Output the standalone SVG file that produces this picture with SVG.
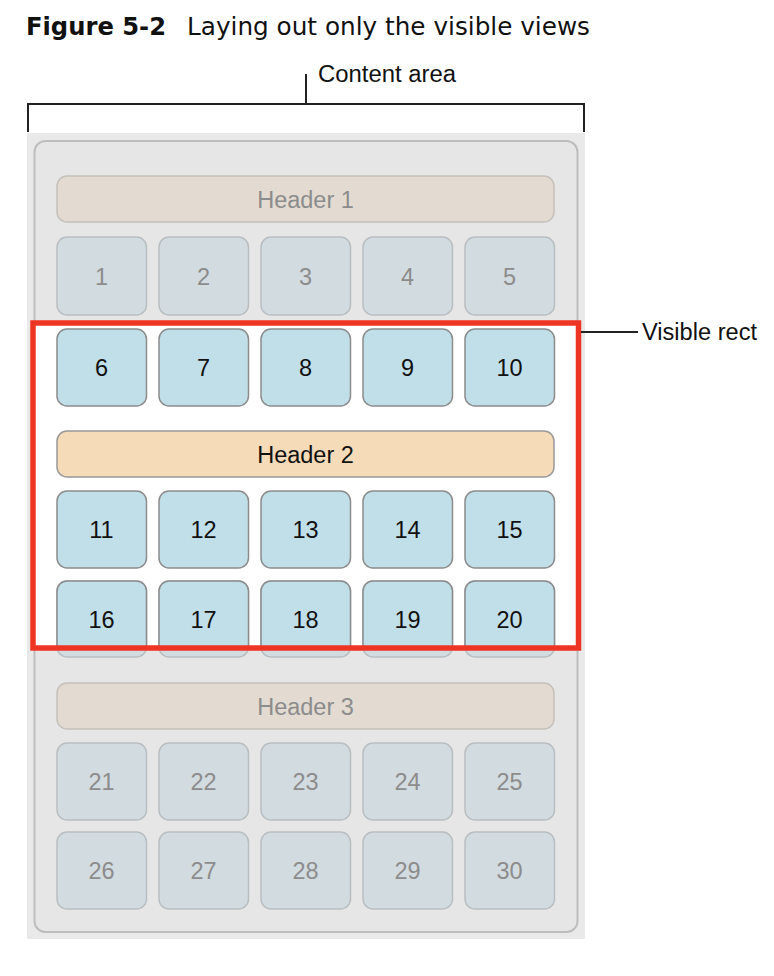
<svg xmlns="http://www.w3.org/2000/svg" width="774" height="976" viewBox="0 0 774 976">
<style>
  text { font-family: "Liberation Sans", Arial, sans-serif; }
  .title { font-family: "DejaVu Sans", "Noto Sans", sans-serif; font-size: 24px; fill: #111; }
  .lbl { font-size: 23.5px; fill: #111; }
  .gcell { fill: #d2dbe0; stroke: #b9bec1; stroke-width: 1.5; }
  .ghead { fill: #e3dbd1; stroke: #c5c0ba; stroke-width: 1.5; }
  .gtxt { font-size: 23.5px; fill: #8c8c8c; text-anchor: middle; }
  .bcell { fill: #c1dfe9; stroke: #8c8c8c; stroke-width: 1.5; }
  .ohead { fill: #f6dbb8; stroke: #999; stroke-width: 1.5; }
  .btxt { font-size: 23.5px; fill: #111; text-anchor: middle; }
  .line { stroke: #222; stroke-width: 2; fill: none; }
</style>
<defs>
  <clipPath id="inside"><rect x="33" y="323" width="545.5" height="325"/></clipPath>
</defs>
<rect width="774" height="976" fill="#fff"/>

<text class="title" x="26" y="35" font-weight="bold" textLength="140" lengthAdjust="spacingAndGlyphs">Figure 5-2</text>
<text class="title" x="187" y="35" textLength="403" lengthAdjust="spacingAndGlyphs">Laying out only the visible views</text>

<g id="background">
  <rect x="27" y="133" width="558" height="806" fill="#e9e9e9"/>
  <rect x="34.5" y="141" width="543" height="791" rx="11" fill="#e6e6e6" stroke="#bdbdbd" stroke-width="2"/>
  <rect x="33" y="323" width="545.5" height="325" fill="#fff"/>
</g>

<g id="content-area">
  <text class="lbl" x="318" y="82" textLength="138" lengthAdjust="spacingAndGlyphs">Content area</text>
</g>

<g id="header1"><rect class="ghead" x="57" y="176" width="497" height="46" rx="10"/><text class="gtxt" x="305.5" y="207.5">Header 1</text></g>
<g id="cell1"><rect class="gcell" x="57" y="237" width="89.5" height="78" rx="10"/><text class="gtxt" x="101.5" y="284.5">1</text></g>
<g id="cell2"><rect class="gcell" x="159" y="237" width="89.5" height="78" rx="10"/><text class="gtxt" x="203.5" y="284.5">2</text></g>
<g id="cell3"><rect class="gcell" x="261" y="237" width="89.5" height="78" rx="10"/><text class="gtxt" x="305.5" y="284.5">3</text></g>
<g id="cell4"><rect class="gcell" x="363" y="237" width="89.5" height="78" rx="10"/><text class="gtxt" x="407.5" y="284.5">4</text></g>
<g id="cell5"><rect class="gcell" x="465" y="237" width="89.5" height="78" rx="10"/><text class="gtxt" x="509.5" y="284.5">5</text></g>

<g id="cell6"><rect class="bcell" x="57" y="329" width="89.5" height="77" rx="10"/><text class="btxt" x="101.5" y="376">6</text></g>
<g id="cell7"><rect class="bcell" x="159" y="329" width="89.5" height="77" rx="10"/><text class="btxt" x="203.5" y="376">7</text></g>
<g id="cell8"><rect class="bcell" x="261" y="329" width="89.5" height="77" rx="10"/><text class="btxt" x="305.5" y="376">8</text></g>
<g id="cell9"><rect class="bcell" x="363" y="329" width="89.5" height="77" rx="10"/><text class="btxt" x="407.5" y="376">9</text></g>
<g id="cell10"><rect class="bcell" x="465" y="329" width="89.5" height="77" rx="10"/><text class="btxt" x="509.5" y="376">10</text></g>

<g id="header2"><rect class="ohead" x="57" y="431" width="497" height="46" rx="10"/><text class="btxt" x="305.5" y="462.5">Header 2</text></g>

<g id="cell11"><rect class="bcell" x="57" y="491" width="89.5" height="77" rx="10"/><text class="btxt" x="101.5" y="538">11</text></g>
<g id="cell12"><rect class="bcell" x="159" y="491" width="89.5" height="77" rx="10"/><text class="btxt" x="203.5" y="538">12</text></g>
<g id="cell13"><rect class="bcell" x="261" y="491" width="89.5" height="77" rx="10"/><text class="btxt" x="305.5" y="538">13</text></g>
<g id="cell14"><rect class="bcell" x="363" y="491" width="89.5" height="77" rx="10"/><text class="btxt" x="407.5" y="538">14</text></g>
<g id="cell15"><rect class="bcell" x="465" y="491" width="89.5" height="77" rx="10"/><text class="btxt" x="509.5" y="538">15</text></g>

<g id="cell16"><rect class="gcell" x="57" y="581" width="89.5" height="76" rx="10"/><rect class="bcell" x="57" y="581" width="89.5" height="76" rx="10" clip-path="url(#inside)"/><text class="btxt" x="101.5" y="627.5">16</text></g>
<g id="cell17"><rect class="gcell" x="159" y="581" width="89.5" height="76" rx="10"/><rect class="bcell" x="159" y="581" width="89.5" height="76" rx="10" clip-path="url(#inside)"/><text class="btxt" x="203.5" y="627.5">17</text></g>
<g id="cell18"><rect class="gcell" x="261" y="581" width="89.5" height="76" rx="10"/><rect class="bcell" x="261" y="581" width="89.5" height="76" rx="10" clip-path="url(#inside)"/><text class="btxt" x="305.5" y="627.5">18</text></g>
<g id="cell19"><rect class="gcell" x="363" y="581" width="89.5" height="76" rx="10"/><rect class="bcell" x="363" y="581" width="89.5" height="76" rx="10" clip-path="url(#inside)"/><text class="btxt" x="407.5" y="627.5">19</text></g>
<g id="cell20"><rect class="gcell" x="465" y="581" width="89.5" height="76" rx="10"/><rect class="bcell" x="465" y="581" width="89.5" height="76" rx="10" clip-path="url(#inside)"/><text class="btxt" x="509.5" y="627.5">20</text></g>

<g id="header3"><rect class="ghead" x="57" y="683" width="497" height="46" rx="10"/><text class="gtxt" x="305.5" y="714.5">Header 3</text></g>

<g id="cell21"><rect class="gcell" x="57" y="743" width="89.5" height="77" rx="10"/><text class="gtxt" x="101.5" y="790">21</text></g>
<g id="cell22"><rect class="gcell" x="159" y="743" width="89.5" height="77" rx="10"/><text class="gtxt" x="203.5" y="790">22</text></g>
<g id="cell23"><rect class="gcell" x="261" y="743" width="89.5" height="77" rx="10"/><text class="gtxt" x="305.5" y="790">23</text></g>
<g id="cell24"><rect class="gcell" x="363" y="743" width="89.5" height="77" rx="10"/><text class="gtxt" x="407.5" y="790">24</text></g>
<g id="cell25"><rect class="gcell" x="465" y="743" width="89.5" height="77" rx="10"/><text class="gtxt" x="509.5" y="790">25</text></g>

<g id="cell26"><rect class="gcell" x="57" y="832" width="89.5" height="77" rx="10"/><text class="gtxt" x="101.5" y="879">26</text></g>
<g id="cell27"><rect class="gcell" x="159" y="832" width="89.5" height="77" rx="10"/><text class="gtxt" x="203.5" y="879">27</text></g>
<g id="cell28"><rect class="gcell" x="261" y="832" width="89.5" height="77" rx="10"/><text class="gtxt" x="305.5" y="879">28</text></g>
<g id="cell29"><rect class="gcell" x="363" y="832" width="89.5" height="77" rx="10"/><text class="gtxt" x="407.5" y="879">29</text></g>
<g id="cell30"><rect class="gcell" x="465" y="832" width="89.5" height="77" rx="10"/><text class="gtxt" x="509.5" y="879">30</text></g>

<g id="visible-rect">
  <rect x="33" y="323" width="545.5" height="325" fill="none" stroke="#ee3524" stroke-width="5.5"/>
  <text class="lbl" x="642" y="339.5" textLength="115" lengthAdjust="spacingAndGlyphs">Visible rect</text>
</g>

<g id="connectors">
  <path class="line" d="M28,132 V104 H584 V132"/>
  <path class="line" d="M306,74 V104"/>
  <path class="line" d="M581,332 H638" stroke-width="1.8"/>
</g>
</svg>
